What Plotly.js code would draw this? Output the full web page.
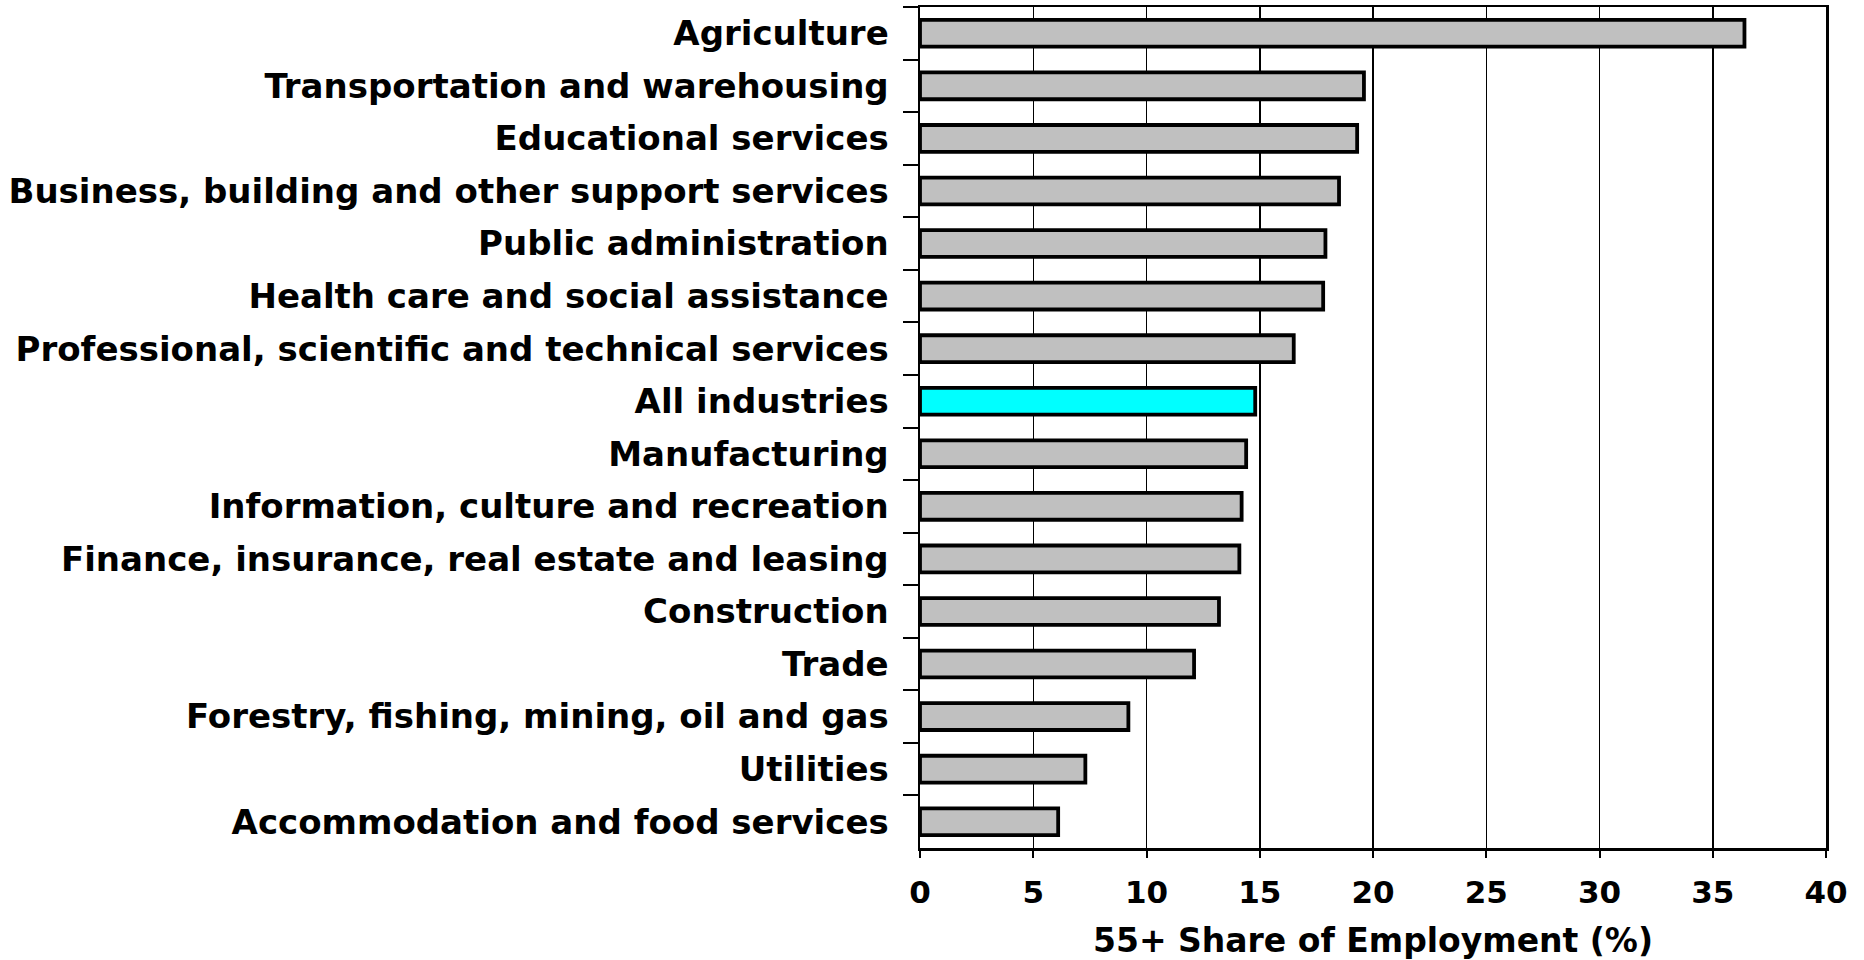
<!DOCTYPE html>
<html>
<head>
<meta charset="utf-8">
<script src="https://cdn.plot.ly/plotly-3.0.1.min.js"></script>
<style>html,body{margin:0;padding:0;background:#fff;}#chart{width:1864px;height:960px;}</style>
</head>
<body>
<div id="chart"></div>
<script>
const industries = [
  "Agriculture",
  "Transportation and warehousing",
  "Educational services",
  "Business, building and other support services",
  "Public administration",
  "Health care and social assistance",
  "Professional, scientific and technical services",
  "All industries",
  "Manufacturing",
  "Information, culture and recreation",
  "Finance, insurance, real estate and leasing",
  "Construction",
  "Trade",
  "Forestry, fishing, mining, oil and gas",
  "Utilities",
  "Accommodation and food services"
];
const share55plus = [36.4, 19.6, 19.3, 18.5, 17.9, 17.8, 16.5, 14.8, 14.4, 14.2, 14.1, 13.2, 12.1, 9.2, 7.3, 6.1];
const highlighted = "All industries";
const xTicks = [0, 5, 10, 15, 20, 25, 30, 35, 40];
const xTitle = "55+ Share of Employment (%)";

const FONT = "DejaVu Sans, Liberation Sans, Arial, sans-serif";
const barColors = industries.map(n => n === highlighted ? "#00FFFF" : "#C0C0C0");

const trace = {
  type: "bar",
  orientation: "h",
  y: industries,
  x: share55plus,
  marker: { color: barColors, line: { color: "#000000", width: 3.8 } },
  hoverinfo: "x+y"
};

const layout = {
  width: 1864,
  height: 960,
  paper_bgcolor: "#ffffff",
  plot_bgcolor: "#ffffff",
  showlegend: false,
  bargap: 0.49,
  margin: { l: 920, r: 38, t: 7, b: 112, pad: 0 },
  xaxis: {
    range: [0, 40],
    tickvals: xTicks,
    ticktext: xTicks.map(String),
    showgrid: true,
    gridcolor: "#000000",
    gridwidth: 1.5,
    zeroline: false,
    showline: true,
    linecolor: "#000000",
    linewidth: 2.5,
    mirror: true,
    ticks: "outside",
    ticklen: 7,
    tickwidth: 2,
    tickcolor: "#000000",
    ticklabelstandoff: 8,
    tickfont: { family: FONT, size: 31, color: "#000000", weight: "bold" },
    title: {
      text: xTitle,
      font: { family: FONT, size: 33, color: "#000000", weight: "bold" },
      standoff: 41
    },
    fixedrange: true
  },
  yaxis: {
    type: "category",
    categoryorder: "array",
    categoryarray: industries,
    range: [industries.length - 0.5, -0.5],
    showgrid: false,
    zeroline: false,
    showline: true,
    linecolor: "#000000",
    linewidth: 2.5,
    mirror: true,
    ticks: "outside",
    tickson: "boundaries",
    ticklen: 15,
    tickwidth: 2,
    tickcolor: "#000000",
    ticklabelstandoff: 22,
    tickfont: { family: FONT, size: 34, color: "#000000", weight: "bold" },
    automargin: false,
    fixedrange: true
  }
};

Plotly.newPlot("chart", [trace], layout, { displayModeBar: false, staticPlot: true });
</script>
</body>
</html>
